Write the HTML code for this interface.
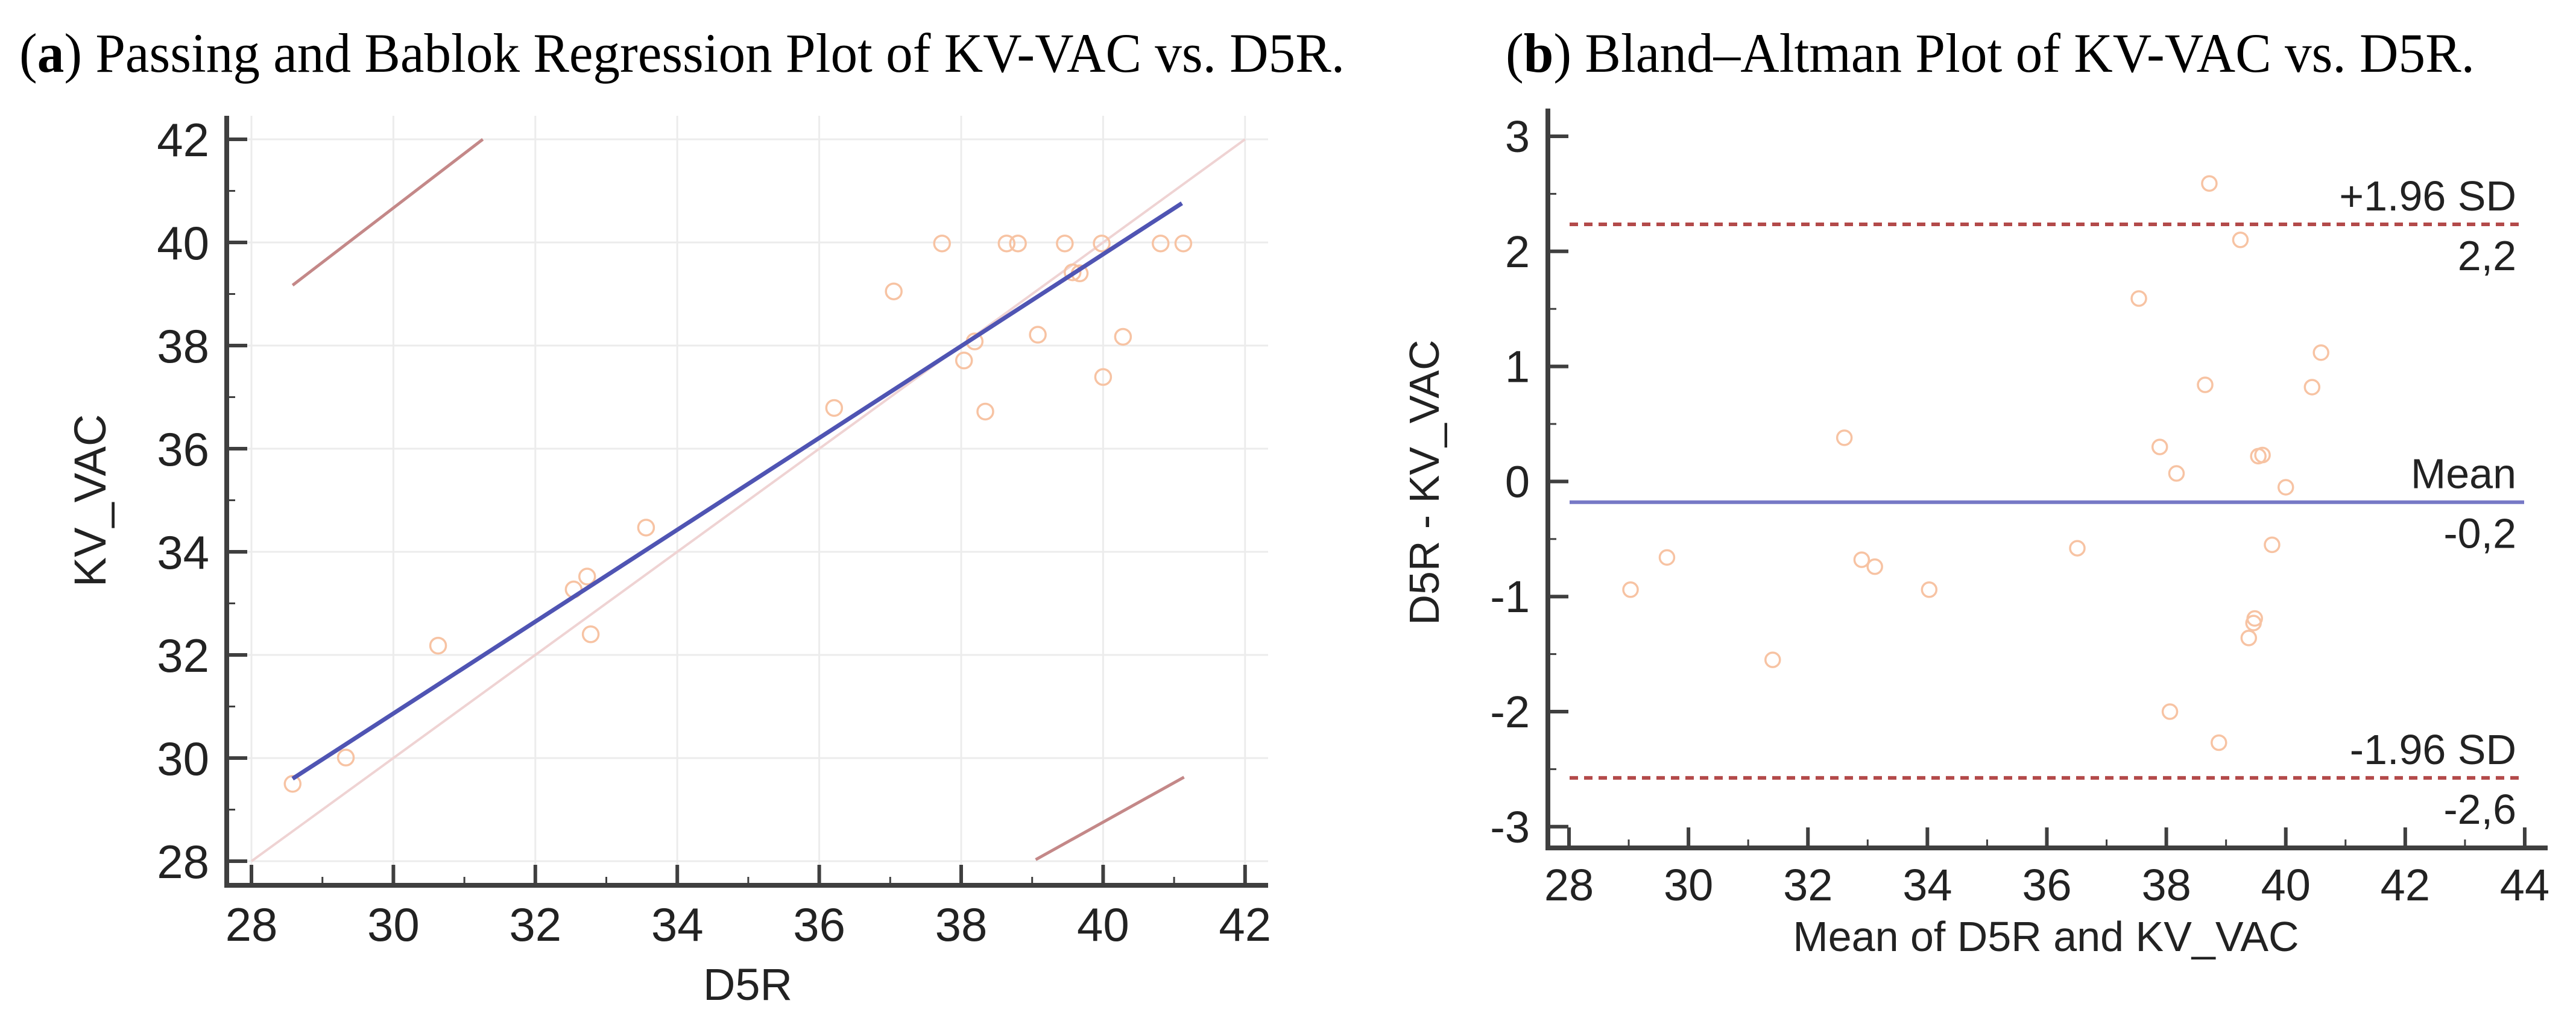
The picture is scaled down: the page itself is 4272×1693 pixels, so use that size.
<!DOCTYPE html>
<html><head><meta charset="utf-8"><style>
html,body{margin:0;padding:0;background:#fff;}
svg{display:block;}
.tick{font-family:"Liberation Sans",Arial,sans-serif;fill:#222;}
.ttl{font-family:"Liberation Serif","Times New Roman",serif;fill:#000;}
</style></head><body>
<svg id="fig" xmlns="http://www.w3.org/2000/svg" width="4272" height="1693" viewBox="0 0 4272 1693">
<text class="ttl" x="32" y="119" font-size="92" textLength="2198" lengthAdjust="spacingAndGlyphs">(<tspan font-weight="bold">a</tspan>) Passing and Bablok Regression Plot of KV-VAC vs. D5R.</text>
<text class="ttl" x="2497" y="119" font-size="92" textLength="1607" lengthAdjust="spacingAndGlyphs">(<tspan font-weight="bold">b</tspan>) Bland–Altman Plot of KV-VAC vs. D5R.</text>
<g id="pa"></g>
<g id="pb"></g>
</svg>
<script>
// Panel A data
const aX = [28.58,29.33,30.63,32.54,32.73,32.78,33.56,36.21,37.05,37.73,38.04,38.19,38.34,38.64,38.80,39.08,39.46,39.57,39.67,39.98,40.00,40.28,40.81,41.13];
const aY = [29.50,30.01,32.18,33.27,33.52,32.40,34.47,36.79,39.05,39.98,37.71,38.08,36.72,39.98,39.98,38.21,39.98,39.42,39.40,39.98,37.39,38.17,39.98,39.98];
const aTicks = [28,30,32,34,36,38,40,42];
const aRegression = [[28.58,29.60],[41.11,40.76]];
const aCIUpper = [[28.58,39.17],[31.26,42.0]];
const aCILower = [[39.05,28.03],[41.14,29.63]];
const aIdentity = [[28,28],[42,42]];
// Panel B data
const bX = [38.72,39.24,37.54,40.59,38.65,40.44,32.61,37.89,38.17,39.54,39.61,40.0,39.77,36.51,29.64,32.90,33.12,29.03,34.03,39.48,39.46,39.38,31.41,38.06,38.88];
const bY = [2.59,2.10,1.59,1.12,0.84,0.82,0.38,0.30,0.07,0.22,0.23,-0.05,-0.55,-0.58,-0.66,-0.68,-0.74,-0.94,-0.94,-1.19,-1.23,-1.36,-1.55,-2.0,-2.27];
const bXTicks = [28,30,32,34,36,38,40,42,44];
const bYTicks = [3,2,1,0,-1,-2,-3];
const bMean = -0.18;
const bUpper = 2.235;
const bLower = -2.576;
const bLabels = ["+1.96 SD","2,2","Mean","-0,2","-1.96 SD","-2,6"];

const NS="http://www.w3.org/2000/svg";
function mk(parent,tag,attrs,text){const e=document.createElementNS(NS,tag);for(const k in attrs)e.setAttribute(k,attrs[k]);if(text!==undefined)e.textContent=text;parent.appendChild(e);return e;}

// ---------- Panel A ----------
const pa=document.getElementById('pa');
const ax=v=>417+(v-28)*117.7;
const ay=v=>231+(42-v)*85.5;
// grid
for(const t of aTicks){
  let g=mk(pa,'line',{x1:ax(t),y1:192,x2:ax(t),y2:1468,stroke:'#ececec','stroke-width':3});
  
  
  let h=mk(pa,'line',{x1:376,y1:ay(t),x2:2103,y2:ay(t),stroke:'#ececec','stroke-width':3});
  
  
}
// identity
let idl=mk(pa,'line',{x1:ax(aIdentity[0][0]),y1:ay(aIdentity[0][1]),x2:ax(aIdentity[1][0]),y2:ay(aIdentity[1][1]),stroke:'#efd3d3','stroke-width':4});


// CI lines
for(const [nm,seg] of [['ci-upper-line',aCIUpper],['ci-lower-line',aCILower]]){
  let l=mk(pa,'line',{x1:ax(seg[0][0]),y1:ay(seg[0][1]),x2:ax(seg[1][0]),y2:ay(seg[1][1]),stroke:'#c48888','stroke-width':5});
  
  
}
// points
aX.forEach((x,i)=>{
  let c=mk(pa,'circle',{cx:ax(x),cy:ay(aY[i]),r:13,fill:'none',stroke:'#f7c3a3','stroke-width':3.5});
  
  
});
// regression
let rl=mk(pa,'line',{x1:ax(aRegression[0][0]),y1:ay(aRegression[0][1]),x2:ax(aRegression[1][0]),y2:ay(aRegression[1][1]),stroke:'#4f54b3','stroke-width':7});


// axes
let axa=mk(pa,'path',{d:'M376 192 V1468 H2103',fill:'none',stroke:'#3f3f3f','stroke-width':8});


for(let v=28;v<=42;v++){
  const major=v%2===0,len=major?34:14;
  let t1=mk(pa,'line',{x1:376,y1:ay(v),x2:376+len,y2:ay(v),stroke:'#3f3f3f','stroke-width':major?6:3});
  
  
  let t2=mk(pa,'line',{x1:ax(v),y1:1468,x2:ax(v),y2:1468-len,stroke:'#3f3f3f','stroke-width':major?6:3});
  
  
}
for(const t of aTicks){
  let l=mk(pa,'text',{class:'tick',x:347,y:ay(t)+28,'font-size':78,'text-anchor':'end'},String(t));
  
  
  let l2=mk(pa,'text',{class:'tick',x:ax(t),y:1560,'font-size':78,'text-anchor':'middle'},String(t));
  
  
}
let xta=mk(pa,'text',{class:'tick',x:1240,y:1658,'font-size':74,'text-anchor':'middle',fill:'#333'},'D5R');


let yta=mk(pa,'text',{class:'tick',x:0,y:0,'font-size':74,'text-anchor':'middle',transform:'translate(175,830) rotate(-90)'},'KV_VAC');



// ---------- Panel B ----------
const pb=document.getElementById('pb');
const bx=v=>2602+(v-28)*99.06;
const by=v=>226+(3-v)*190.8;
// lines
for(const [nm,val,col,dash,w] of [['upper-loa-line',bUpper,'#b34a4a','14 10',6],['lower-loa-line',bLower,'#b34a4a','14 10',6],['mean-line',bMean,'#7779c6',null,6]]){
  const at={x1:2603,y1:by(val),x2:4186,y2:by(val),stroke:col,'stroke-width':w};
  if(dash)at['stroke-dasharray']=dash;
  let l=mk(pb,'line',at);
  
  
}
const labVals=[bUpper,bUpper,bMean,bMean,bLower,bLower];
bLabels.forEach((s,i)=>{
  const off=i%2===0?-23:76;
  let t=mk(pb,'text',{class:'tick',x:4173,y:by(labVals[i])+off,'font-size':70,'text-anchor':'end'},s);
  
  
});
bX.forEach((x,i)=>{
  let c=mk(pb,'circle',{cx:bx(x),cy:by(bY[i]),r:12,fill:'none',stroke:'#f7c3a3','stroke-width':3.5});
  
  
});
let axb=mk(pb,'path',{d:'M2567 180 V1406 H4225',fill:'none',stroke:'#3f3f3f','stroke-width':8});


for(let v=-3;v<=3;v+=0.5){
  const major=Number.isInteger(v),len=major?34:14;
  let t=mk(pb,'line',{x1:2567,y1:by(v),x2:2567+len,y2:by(v),stroke:'#3f3f3f','stroke-width':major?6:3});
  
  
}
for(let v=28;v<=44;v++){
  const major=v%2===0,len=major?34:14;
  let t=mk(pb,'line',{x1:bx(v),y1:1406,x2:bx(v),y2:1406-len,stroke:'#3f3f3f','stroke-width':major?6:3});
  
  
}
for(const t of bYTicks){
  let l=mk(pb,'text',{class:'tick',x:2537,y:by(t)+26,'font-size':74,'text-anchor':'end'},String(t));
  
  
}
for(const t of bXTicks){
  let l=mk(pb,'text',{class:'tick',x:bx(t),y:1493,'font-size':74,'text-anchor':'middle'},String(t));
  
  
}
let xtb=mk(pb,'text',{class:'tick',x:3393,y:1577,'font-size':70,'text-anchor':'middle',fill:'#333'},'Mean of D5R and KV_VAC');


let ytb=mk(pb,'text',{class:'tick',x:0,y:0,'font-size':70,'text-anchor':'middle',transform:'translate(2386,800) rotate(-90)'},'D5R - KV_VAC');


</script>
</body></html>
